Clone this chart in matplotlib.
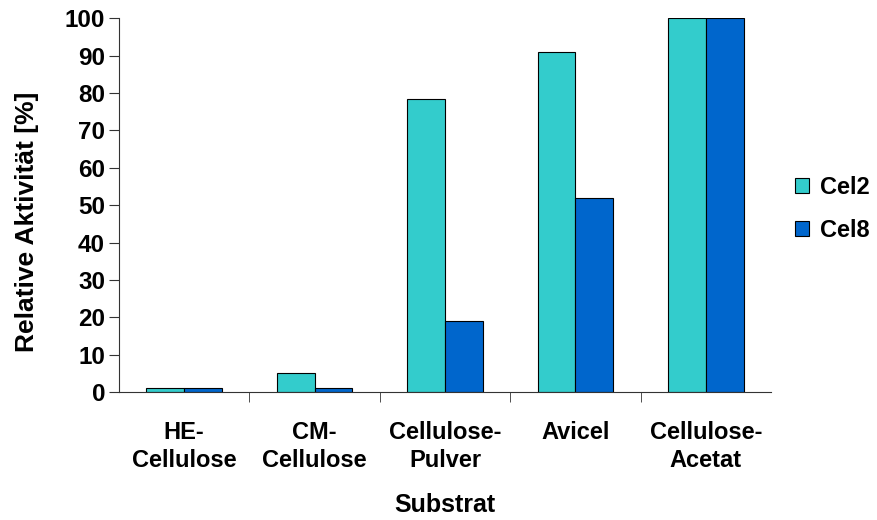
import numpy as np
import matplotlib.pyplot as plt

plt.rcParams['font.family'] = ['Liberation Sans', 'DejaVu Sans']
plt.rcParams['font.weight'] = 'bold'

categories = ['HE-\nCellulose', 'CM-\nCellulose', 'Cellulose-\nPulver', 'Avicel', 'Cellulose-\nAcetat']
cel2 = [1, 5, 78.5, 91, 100]
cel8 = [1, 1, 19, 52, 100]

fig = plt.figure(figsize=(8.77, 5.2), dpi=100)
ax = fig.add_axes([0.1357, 0.246, 0.7435, 0.719])

x = np.arange(len(categories))
w = 0.29
ax.bar(x - w / 2, cel2, w, color='#33CCCC', edgecolor='black', linewidth=0.8, label='Cel2')
ax.bar(x + w / 2, cel8, w, color='#0066CC', edgecolor='black', linewidth=0.8, label='Cel8')

ax.set_xlim(-0.5, len(categories) - 0.5)
ax.set_ylim(0, 100)
ax.set_yticks(np.arange(0, 101, 10))
ax.set_xticks(x)
ax.set_xticklabels(categories, fontsize=17, fontweight='bold', linespacing=1.25)
ax.tick_params(axis='x', length=0, pad=21)
ax.set_xticks(np.arange(0.5, len(categories) - 0.5, 1), minor=True)
ax.tick_params(axis='x', which='minor', length=7, direction='out', color='#333333')
ax.tick_params(axis='y', labelsize=17.5, length=7, direction='out', color='#333333', pad=3)
for lab in ax.get_yticklabels():
    lab.set_fontweight('bold')

for s in ['top', 'right']:
    ax.spines[s].set_visible(False)
for s in ['left', 'bottom']:
    ax.spines[s].set_color('#333333')

ax.set_ylabel('Relative Aktivität [%]', fontsize=19, fontweight='bold')
ax.yaxis.set_label_coords(-0.122, 0.455)
ax.set_xlabel('Substrat', fontsize=18, fontweight='bold', labelpad=15)

ax.legend(loc='center left', bbox_to_anchor=(1.015, 0.49), frameon=False, fontsize=17,
          handlelength=0.6, handleheight=0.6, labelspacing=0.85, handletextpad=0.45,
          borderaxespad=0.2)

fig.savefig('out.png', dpi=100)
